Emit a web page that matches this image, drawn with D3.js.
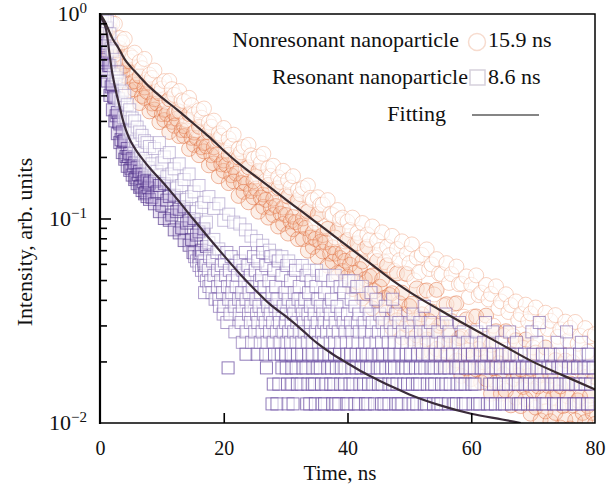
<!DOCTYPE html>
<html>
<head>
<meta charset="utf-8">
<script src="https://cdn.jsdelivr.net/npm/d3@7"></script>
<style>
body{margin:0;background:#fff;}
svg{display:block;}
svg text{font-family:"Liberation Serif","Times New Roman",serif;fill:#111;}
</style>
</head>
<body>
<svg id="chart" width="616" height="485"></svg>
<script>
// nonresonant nanoparticle (orange circles): times + readings across the scatter band
var orangeT = [0,0.8,1.6,2.4,3.2,4,4.8,5.6,6.4,7.2,8,8.8,9.6,10.4,11.2,12,12.8,13.6,14.4,15.2,16,16.8,17.6,18.4,19.2,20,20.8,21.6,22.4,23.2,24,24.8,25.6,26.4,27.2,28,28.8,29.6,30.4,31.2,32,32.8,33.6,34.4,35.2,36,36.8,37.6,38.4,39.2,
  40,40.8,41.6,42.4,43.2,44,44.8,45.6,46.4,47.2,48,48.8,49.6,50.4,51.2,52,52.8,53.6,54.4,55.2,56,56.8,57.6,58.4,59.2,60,60.8,61.6,62.4,63.2,64,64.8,65.6,66.4,67.2,68,68.8,69.6,70.4,71.2,72,72.8,73.6,74.4,75.2,76,76.8,77.6,78.4,79.2,80];
var orangeHi = [0.99,0.97,0.93,0.895,0.763,0.755,0.628,0.647,0.583,0.603,0.505,0.529,0.449,0.47,0.471,0.402,0.42,0.374,0.389,0.323,0.338,0.345,0.295,0.301,0.261,0.277,0.246,0.257,0.219,0.224,0.229,0.196,0.201,0.207,0.176,0.181,0.159,0.171,0.154,0.161,0.138,0.141,0.145,0.123,0.127,0.117,0.123,0.104,0.11,0.101,
  0.0966,0.101,0.085,0.095,0.0836,0.0914,0.078,0.0856,0.0728,0.0822,0.071,0.0773,0.0674,0.0747,0.0643,0.0664,0.0706,0.0596,0.0633,0.0533,0.0605,0.0535,0.0582,0.048,0.0521,0.0474,0.0527,0.0434,0.0473,0.0428,0.0466,0.0393,0.0426,0.0377,0.0393,0.0341,0.0379,0.0343,0.0367,0.0311,0.0346,0.0316,0.0337,0.0287,0.0313,0.0292,0.0312,0.0267,0.0291,0.0265,0.0272];
var orangeMid = [0.96,0.87,0.85,0.68,0.68,0.56,0.587,0.469,0.496,0.437,0.461,0.383,0.409,0.34,0.383,0.327,0.334,0.283,0.324,0.263,0.281,0.234,0.263,0.223,0.243,0.192,0.205,0.178,0.199,0.159,0.178,0.152,0.171,0.131,0.146,0.125,0.141,0.113,0.128,0.102,0.123,0.1,0.108,0.0853,0.105,0.083,0.089,0.0723,0.0877,0.0682,
  0.0785,0.0638,0.0757,0.0616,0.0728,0.0526,0.062,0.0504,0.0591,0.0431,0.0539,0.0434,0.0535,0.0383,0.0455,0.034,0.0445,0.0351,0.0448,0.0307,0.0381,0.0315,0.0385,0.0264,0.0321,0.0266,0.0332,0.0244,0.0335,0.0241,0.0281,0.0211,0.0281,0.0217,0.0254,0.0183,0.0256,0.0184,0.0221,0.0171,0.0234,0.017,0.0203,0.0151,0.0202,0.0156,0.0188,0.0134,0.0168,0.0136,0.0168];
var orangeLo = [0.9,0.775,0.643,0.634,0.517,0.499,0.424,0.427,0.367,0.389,0.334,0.341,0.296,0.303,0.265,0.284,0.253,0.253,0.219,0.229,0.204,0.213,0.182,0.186,0.161,0.171,0.149,0.152,0.129,0.135,0.12,0.127,0.108,0.114,0.101,0.104,0.0914,0.0941,0.0844,0.0887,0.0793,0.0793,0.0696,0.0726,0.065,0.069,0.0588,0.0615,0.0541,0.0554,
  0.0519,0.0452,0.0489,0.0407,0.0429,0.0364,0.04,0.0325,0.0348,0.0291,0.0318,0.0262,0.0301,0.0259,0.0268,0.0225,0.0256,0.0221,0.023,0.0193,0.0219,0.019,0.0202,0.017,0.0185,0.0164,0.0183,0.0158,0.0164,0.0139,0.0158,0.0139,0.0144,0.0122,0.0133,0.0121,0.0131,0.0111,0.0119,0.0103,0.0114,0.0102,0.0112,0.0095,0.0104,0.0094,0.0103,0.0092,0.0101,0.009,0.0099];
// in-between channels
var orangeT2 = [0.4,1.2,2,2.8,3.6,4.4,5.2,6,6.8,7.6,8.4,9.2,10,10.8,11.6,12.4,13.2,14,14.8,15.6,16.4,17.2,18,18.8,19.6,20.4,21.2,22,22.8,23.6,24.4,25.2,26,26.8,27.6,28.4,29.2,30,30.8,31.6,32.4,33.2,34,34.8,35.6,36.4,37.2,38,38.8,39.6,
  40.4,41.2,42,42.8,43.6,44.4,45.2,46,46.8,47.6,48.4,49.2,50,50.8,51.6,52.4,53.2,54,54.8,55.6,56.4,57.2,58,58.8,59.6,60.4,61.2,62,62.8,63.6,64.4,65.2,66,66.8,67.6,68.4,69.2,70,70.8,71.6,72.4,73.2,74,74.8,75.6,76.4,77.2,78,78.8,79.6];
var orangeUp = [0.983,0.856,0.897,0.726,0.727,0.605,0.612,0.513,0.543,0.478,0.487,0.419,0.432,0.372,0.429,0.338,0.378,0.303,0.358,0.271,0.311,0.2645,0.281,0.2412,0.254,0.2147,0.2266,0.1991,0.2107,0.1757,0.2037,0.1607,0.1871,0.1533,0.1617,0.14,0.151,0.1294,0.1417,0.1193,0.1315,0.1105,0.1262,0.0953,0.1165,0.0917,0.1055,0.0807,0.0991,0.0773,
  0.0879,0.0748,0.0809,0.0712,0.0787,0.0645,0.0701,0.0612,0.0662,0.0554,0.0625,0.0539,0.0605,0.0498,0.0546,0.0442,0.0566,0.0425,0.0538,0.0376,0.0484,0.0382,0.0477,0.0331,0.0413,0.0331,0.0422,0.0303,0.0402,0.0299,0.0365,0.0268,0.0349,0.0266,0.0319,0.0233,0.0314,0.0234,0.0288,0.0215,0.0288,0.0216,0.0264,0.0194,0.0253,0.0198,0.0244,0.0176,0.0223,0.0177];
var orangeDown = [0.866,0.828,0.688,0.663,0.552,0.534,0.465,0.452,0.397,0.416,0.365,0.365,0.324,0.324,0.297,0.3075,0.2706,0.27,0.248,0.2476,0.223,0.2253,0.2037,0.2055,0.184,0.1828,0.1627,0.166,0.1491,0.1478,0.1361,0.1402,0.1265,0.1233,0.113,0.115,0.1057,0.104,0.0967,0.096,0.092,0.0899,0.0807,0.0794,0.0769,0.0764,0.0673,0.0673,0.0641,0.0621,
  0.0594,0.0542,0.0566,0.0505,0.052,0.0442,0.0464,0.0409,0.0423,0.0357,0.0385,0.034,0.0373,0.0318,0.0325,0.0279,0.0315,0.0282,0.0299,0.0245,0.0269,0.0247,0.026,0.0214,0.0227,0.0211,0.023,0.0198,0.0218,0.0185,0.0196,0.0173,0.0187,0.0164,0.0171,0.015,0.017,0.0144,0.0151,0.0134,0.0152,0.0133,0.0141,0.0121,0.0135,0.0122,0.0129,0.0112,0.0121,0.0112];

// resonant nanoparticle (purple squares): early continuous part
var purpleT = [0,0.4,0.8,1.2,1.6,2,2.4,2.8,3.2,3.6,4,4.4,4.8,5.2,5.6,6,6.4,6.8,7.2,7.6,8,8.8,9.6,10.4,11.2,12,12.8,13.6,14.4,15.2,16,16.8];
var purpleHi = [0.99,0.99,0.97,0.92,0.8,0.66,0.6,0.52,0.47,0.42,0.4,0.36,0.34,0.31,0.3,0.28,0.265,0.255,0.24,0.235,0.225,0.22,0.235,0.2,0.21,0.175,0.185,0.155,0.165,0.135,0.145,0.12];
var purpleMid = [0.88,0.8,0.74,0.65,0.56,0.45,0.39,0.33,0.29,0.265,0.24,0.22,0.208,0.196,0.187,0.178,0.17,0.165,0.158,0.153,0.149,0.152,0.145,0.148,0.128,0.13,0.111,0.114,0.098,0.1,0.086,0.089];
var purpleLo = [0.72,0.6,0.52,0.47,0.4,0.34,0.3,0.26,0.235,0.21,0.195,0.18,0.172,0.163,0.155,0.148,0.142,0.137,0.132,0.128,0.124,0.118,0.108,0.1,0.098,0.088,0.085,0.078,0.074,0.068,0.065,0.059];
var purpleT2 = [0.2,0.6,1,1.4,1.8,2.2,2.6,3,3.4,3.8,4.2,4.6,5,5.4,5.8,6.2,6.6,7,7.4,7.8,8.4,9.2,10,10.8,11.6,12.4,13.2,14,14.8,15.6,16.4,17.2];
var purpleUp = [0.94,0.829,0.855,0.72,0.675,0.507,0.488,0.385,0.372,0.311,0.313,0.262,0.268,0.229,0.239,0.208,0.214,0.191,0.197,0.177,0.185,0.17,0.187,0.16,0.165,0.141,0.145,0.124,0.128,0.108,0.113,0.096];
var purpleDown = [0.741,0.699,0.577,0.558,0.44,0.395,0.318,0.296,0.243,0.238,0.201,0.201,0.176,0.181,0.158,0.164,0.144,0.151,0.134,0.141,0.127,0.135,0.116,0.123,0.104,0.108,0.09,0.095,0.079,0.083,0.07,0.073];
// sparse squares above the fit
var purpleExtra = [[17.6,0.128],[18.4,0.112],[19.2,0.118],[20,0.098],[17.6,0.076],[18.4,0.079],[19.2,0.071],[20.8,0.105],[21.6,0.096],[22.6,0.094],[23.5,0.088],[24.4,0.082],[25.3,0.078],[26.3,0.074],[27.4,0.07],[28.4,0.066],[29.4,0.0651],[30.5,0.062],[31.6,0.0589],[32.7,0.0589],[33.8,0.0558],[35,0.0558],[36.4,0.0527],[38,0.0527],[39.6,0.0496],[41,0.0496],[42.4,0.0465]];
// low-count part: discrete intensity levels and the times where squares sit on them
var purpleLevels = [0.0124,0.0155,0.0186,0.0217,0.0248,0.0279,0.031,0.0341,0.0372,0.0403,0.0434,0.0465,0.0496,0.0527,0.0558,0.0589,0.062,0.0651,0.0682];
var purpleRowTimes = [
  [27.8,28.6,30.4,31.2,33.4,33.9,34.8,35.9,36.3,37.6,38.1,38.6,39.8,40.1,41.2,41.8,42.9,43.3,44.4,45.5,45.9,46.7,47.8,48.2,48.8,49.9,50.6,51.2,52.4,52.8,53.9,54.6,55.1,56.3,57.2,57.6,58.7,59.1,60.3,61,61.4,62.6,63.1,63.9,65,65.4,66.5,67.6,68,69.1,69.9,70.4,71.6,72.1,73.3,73.8,74.9,75.4,76.6,77,77.9,78.8,79.4],
  [28,28.9,30.3,31,31.9,32.5,33.6,34.3,34.7,35.8,36.5,37.3,37.8,38.9,39.5,40.4,40.9,42,42.6,43.4,44.1,45,45.6,46.7,47.3,48,49.1,49.7,50.5,51.3,51.7,52.9,53.6,54.1,55.2,55.9,56.6,57.7,58.3,59,60.1,60.6,63,63.6,64.5,65.2,66,67.1,67.6,68.7,69.4,70.2,71.1,71.8,72.9,73.5,74.3,75.3,75.8,76.9,77.6,78.4,79.3],
  [20.7,26.9,29.4,30.1,31,31.7,32.8,33.3,34.4,35.1,35.6,36.8,37.4,38.2,39,39.6,40.7,41.4,42.2,43.1,43.7,44.8,45.3,46.2,47.1,47.6,48.8,49.4,50.1,51,51.8,52.5,53.5,54,55,55.7,56.4,57.5,58,59.1,59.8,60.5,61.6,62.1,63.2,64,64.7,65.8,66.3,67.2,68.3,68.9,69.8,70.6,71.3,72.4,73,74,74.6,75.7,76.5,77.2,78.2,78.9,79.7],
  [23.6,25.4,26.8,28.2,29.3,30,30.9,31.9,32.6,33.7,34.3,35.4,36.2,37,37.9,38.7,39.9,40.5,41.4,42.4,43,44,45.1,45.7,46.8,47.5,48.5,49.5,50.2,51.3,52.1,53,54.2,55,56.1,57,58.2,59.4,60.2,61.5,62.5,63.6,65,66.1,67.4,68.6,70,71.5,72.8,74.4,75.9,77.5,78.9],
  [23,24.5,25.9,27,28,29.1,30.2,30.8,31.7,32.6,33.5,34.3,35.3,36.1,37.2,37.9,38.9,39.8,40.8,41.7,42.8,43.6,44.6,45.5,46.6,47.6,48.7,49.6,50.8,51.9,53.1,54.3,55.5,56.6,57.9,59.4,60.8,62,63.4,64.9,67.3,70.6,73.9,77.8],
  [21.8,23.6,25,26.2,27.4,28.5,29.6,30.5,31.3,32.2,33,34,34.8,35.8,36.6,37.6,38.5,39.6,40.7,41.9,42.8,43.9,45,46.3,47.5,48.9,50.4,51.8,53,54.6,56.4,58.7,60.9,63.5,66.2,69.8,75.4],
  [20.5,22.8,24.3,25.5,26.7,27.9,29,30,30.9,31.8,32.9,34,35.1,36.2,37.1,38,39.3,40.5,41.6,42.7,44,45.6,46.9,48.3,50,51.7,53.4,56,58.1,62.3,71],
  [19.9,21,22.5,24,25.3,26.4,27.5,28.9,30.1,31.3,32.7,33.6,34.6,36,37.2,38.9,40,41.8,43.5,45.2,47.8,50.6,55.9],
  [19.3,20,21.7,23,24.4,25.7,27.1,28.3,29.6,31.1,32.5,34,35.6,37,38.3,41.2,43,46.1,52.4],
  [18.6,19.2,20.8,22.4,23.6,25.2,26.9,28.6,30.4,32,33.1,35.2,37.4,40.6,44.6,47.3],
  [16.9,18.1,19.8,21.3,22.9,24.1,25.9,27.8,29.9,31.4,33.7,36.3,39.4,43.8],
  [17.6,19,20.6,22,24.6,26.5,28.4,32.2,34.9,38.8,41.5],
  [17.2,17.9,19.5,21.4,23.4,25.8,27.3,30.8,34.1,37.6,40.2],
  [16.9,18.4,20.3,22.2,24.3,26.1,29.4,33.3,35.8],
  [16.4,17.5,19,20.9,23.1,25.1,28.1,31.6],
  [16,17.1,19.6,21.8,23.9,26.8,30.2],
  [15.6,16.8,18.2,20.1,22.6,25.5,28.8],
  [15.3,16.5,17.7,21.2,24.8,27.6],
  [15,16.2,18.9,20.5,23.5,26.3]
];

// fitted decay curves
var orangeFitT = [0,0.5,1,1.5,2,3,4,5,6,8,10,12.5,15,17.5,20,22.5,25,27.5,30,32.5,35,37.5,40,42.5,45,47.5,50,55,60,65,70,75,80];
var orangeFitV = [1,0.95,0.89,0.82,0.76,0.68,0.6,0.55,0.51,0.44,0.39,0.34,0.293,0.253,0.215,0.185,0.162,0.142,0.124,0.109,0.0955,0.0837,0.0733,0.0642,0.0562,0.0493,0.0438,0.0356,0.0292,0.0241,0.0199,0.017,0.0146];
var purpleFitT = [0,0.5,1,1.5,2,2.5,3,3.5,4,4.5,5,6,7,8,10,12.5,15,17.5,20,22.5,25,27.5,30,32.5,35,37.5,40,42.5,45,47.5,50,55,60,65,68];
var purpleFitV = [0.97,0.92,0.835,0.65,0.51,0.43,0.37,0.32,0.282,0.256,0.237,0.212,0.193,0.177,0.152,0.124,0.1,0.081,0.066,0.054,0.045,0.038,0.0333,0.0288,0.0247,0.0218,0.0196,0.0177,0.0162,0.0149,0.0138,0.0122,0.0111,0.0104,0.01];

var xTicks = [0,20,40,60,80];
var xInnerTicks = [20,40,60];
var yMajor = [1,0.1,0.01];
var yExp = ['0','\u22121','\u22122'];
var yMinor = [0.02,0.03,0.04,0.05,0.06,0.07,0.08,0.09,0.2,0.3,0.4,0.5,0.6,0.7,0.8,0.9];
var legendNames = ['Nonresonant nanoparticle','Resonant nanoparticle','Fitting'];
var legendTimes = ['15.9 ns','8.6 ns'];

var svg = d3.select('#chart');
var x = d3.scaleLinear().domain([0,80]).range([100,595]);
var y = d3.scaleLog().domain([0.01,1]).range([423,14]);

svg.append('clipPath').attr('id','plotclip').append('rect')
  .attr('x',100).attr('y',14).attr('width',495).attr('height',409);
var plot = svg.append('g').attr('clip-path','url(#plotclip)');

// each point: [t, value, kind]; kind only picks the stroke shade
var orangePts = [];
orangeT.forEach(function(t, i){
  orangePts.push([t, orangeLo[i], 'd'], [t, orangeMid[i], 'd'], [t, orangeHi[i], 's']);
});
orangeT2.forEach(function(t, i){
  orangePts.push([t, orangeDown[i], 'd'], [t, orangeUp[i], 's']);
});
orangePts.sort(function(a,b){ return a[0]-b[0]; });

var purplePts = [];
purpleT.forEach(function(t, i){
  purplePts.push([t, purpleLo[i], 'd'], [t, purpleMid[i], 'd'], [t, purpleHi[i], 's']);
});
purpleT2.forEach(function(t, i){
  purplePts.push([t, purpleDown[i], 'd'], [t, purpleUp[i], 's']);
});
purpleExtra.forEach(function(p){ purplePts.push([p[0], p[1], 's']); });
purpleRowTimes.forEach(function(times, k){
  times.forEach(function(t){ purplePts.push([t, purpleLevels[k], k < 4 ? 'r' : 'm']); });
});
purplePts.sort(function(a,b){ return a[0]-b[0]; });

var oStroke = {d:'#e06a3a', s:'#eea282'};
var oFill = {d:'#f5bea2', s:'#ffffff'};
plot.selectAll('circle.o').data(orangePts).enter().append('circle')
  .attr('class','o')
  .attr('cx', function(d){ return x(d[0]); })
  .attr('cy', function(d){ return y(d[1]); })
  .attr('r', 7.5)
  .style('fill', function(d){ return oFill[d[2]]; })
  .style('fill-opacity', function(d){ return d[2] == 'd' ? 0.25 : 0.55; })
  .style('stroke', function(d){ return oStroke[d[2]]; })
  .style('stroke-opacity', 0.48)
  .style('stroke-width',1);

var pStroke = {d:'#4a2c84', s:'#a494c4', r:'#62449c', m:'#7a60ab'};
var pFill = {d:'#b8a6d8', s:'#ffffff', r:'#ffffff', m:'#ffffff'};
var pOpacity = {d:0.62, s:0.6, r:0.72, m:0.62};
plot.selectAll('rect.p').data(purplePts).enter().append('rect')
  .attr('class','p')
  .attr('x', function(d){ return x(d[0])-6; })
  .attr('y', function(d){ return y(d[1])-6; })
  .attr('width',12).attr('height',12)
  .style('fill', function(d){ return pFill[d[2]]; })
  .style('fill-opacity', function(d){ return d[2] == 'd' ? 0.3 : 0.55; })
  .style('stroke', function(d){ return pStroke[d[2]]; })
  .style('stroke-opacity', function(d){ return pOpacity[d[2]]; })
  .style('stroke-width',1);

var line = d3.line()
  .x(function(d){ return x(d[0]); })
  .y(function(d){ return y(d[1]); })
  .curve(d3.curveMonotoneX);
plot.append('path').datum(d3.zip(orangeFitT, orangeFitV))
  .attr('d', line).style('fill','none').style('stroke','#3b2c30').style('stroke-width',2.2);
plot.append('path').datum(d3.zip(purpleFitT, purpleFitV))
  .attr('d', line).style('fill','none').style('stroke','#3b2c3a').style('stroke-width',2.2);

// frame and ticks
svg.append('rect').attr('x',100).attr('y',14).attr('width',495).attr('height',409)
  .style('fill','none').style('stroke','#000').style('stroke-width',1.5);
svg.append('line').attr('x1',100).attr('x2',100).attr('y1',13).attr('y2',424)
  .style('stroke','#000').style('stroke-width',2.2);

var gMinor = svg.append('g').attr('transform','translate(100,0)')
  .call(d3.axisRight(y).tickValues(yMinor).tickSize(7).tickFormat(''));
var gMajor = svg.append('g').attr('transform','translate(100,0)')
  .call(d3.axisRight(y).tickValues([0.1]).tickSize(11).tickFormat(''));
var gX = svg.append('g').attr('transform','translate(0,423)')
  .call(d3.axisTop(x).tickValues(xInnerTicks).tickSize(10).tickFormat(''));
[gMinor, gMajor, gX].forEach(function(g){
  g.select('.domain').remove();
  g.selectAll('line').style('stroke','#000').style('stroke-width',1.6);
});

var gXL = svg.append('g').attr('transform','translate(0,423)')
  .call(d3.axisBottom(x).tickValues(xTicks).tickSize(0).tickFormat(d3.format('d')));
gXL.select('.domain').remove();
gXL.attr('font-family',null).attr('font-size',null);
gXL.selectAll('text').attr('y',32).attr('dy',0).style('font-size','20px');

yMajor.forEach(function(v, k){
  var t = svg.append('text').attr('x',87).attr('y', y(v)+7)
    .attr('text-anchor','end').style('font-size','22px').text('10');
  t.append('tspan').attr('dy',-8).style('font-size','15px').text(yExp[k]);
});

svg.append('text').attr('x',340).attr('y',480).attr('text-anchor','middle')
  .style('font-size','21px').text('Time, ns');
svg.append('text').attr('transform','translate(32,242) rotate(-90)')
  .attr('text-anchor','middle').style('font-size','22px').text('Intensity, arb. units');

// legend
var lg = svg.append('g');
lg.append('text').attr('x',459).attr('y',47).attr('text-anchor','end').style('font-size','22px').text(legendNames[0]);
lg.append('circle').attr('cx',477).attr('cy',42).attr('r',8.5)
  .style('fill','#fff').style('stroke','#f7dccf').style('stroke-width',1.5);
lg.append('text').attr('x',488).attr('y',47).style('font-size','22px').text(legendTimes[0]);
lg.append('text').attr('x',468).attr('y',84).attr('text-anchor','end').style('font-size','22px').text(legendNames[1]);
lg.append('rect').attr('x',470).attr('y',70).attr('width',15).attr('height',15)
  .style('fill','#fff').style('stroke','#d6d1dc').style('stroke-width',1.5);
lg.append('text').attr('x',488).attr('y',84).style('font-size','22px').text(legendTimes[1]);
lg.append('text').attr('x',446).attr('y',121).attr('text-anchor','end').style('font-size','22px').text(legendNames[2]);
lg.append('line').attr('x1',472).attr('x2',539).attr('y1',115).attr('y2',115)
  .style('stroke','#858585').style('stroke-width',2);
</script>
</body>
</html>
